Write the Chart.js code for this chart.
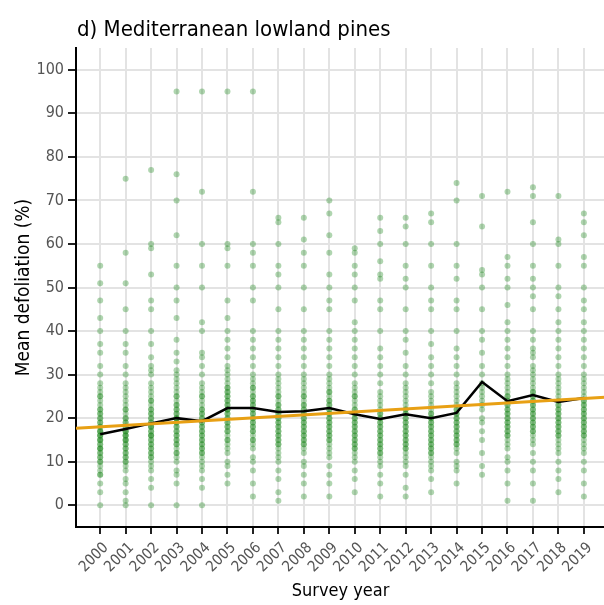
<!DOCTYPE html>
<html>
<head>
<meta charset="utf-8">
<script src="https://cdn.jsdelivr.net/npm/chart.js@4/dist/chart.umd.min.js"></script>
<style>
  html, body { margin: 0; padding: 0; background: #fff; overflow: hidden; }
  canvas { display: block; }
</style>
</head>
<body>
<canvas id="myChart" width="608" height="605"></canvas>
<script>
// Survey years and y ticks
var years = [2000, 2001, 2002, 2003, 2004, 2005, 2006, 2007, 2008, 2009,
             2010, 2011, 2012, 2013, 2014, 2015, 2016, 2017, 2018, 2019];
var yTicks = [0, 10, 20, 30, 40, 50, 60, 70, 80, 90, 100];

// Plot-level mean defoliation (%) per year
var y2000 = [0, 3, 5, 7, 7, 8, 9, 10, 10, 11, 11, 12, 12, 13, 13, 13, 14, 14, 15, 15, 15, 16, 16, 16, 17, 17, 17, 18, 18, 19, 19, 20, 20, 21, 21, 22, 22, 23, 24, 25, 25, 26, 27, 28, 30, 32, 35, 37, 40, 43, 47, 51, 55];
var y2001 = [0, 1, 3, 5, 6, 8, 9, 10, 10, 11, 11, 12, 12, 13, 13, 14, 14, 15, 15, 15, 16, 16, 16, 17, 17, 17, 18, 18, 19, 19, 20, 20, 21, 22, 22, 23, 24, 25, 26, 27, 28, 30, 32, 35, 37, 40, 45, 51, 58, 75];
var y2002 = [0, 4, 6, 8, 9, 10, 11, 11, 12, 12, 13, 13, 14, 14, 15, 15, 16, 16, 16, 17, 17, 18, 18, 18, 19, 19, 20, 20, 21, 21, 22, 22, 23, 24, 24, 25, 26, 27, 28, 30, 31, 32, 34, 37, 40, 45, 47, 53, 59, 60, 77];
var y2003 = [0, 5, 7, 8, 10, 11, 12, 12, 13, 14, 14, 15, 15, 16, 16, 17, 17, 18, 18, 19, 19, 20, 20, 20, 21, 21, 22, 22, 23, 23, 24, 25, 25, 26, 27, 28, 29, 30, 31, 33, 35, 38, 43, 47, 50, 55, 62, 70, 76, 95];
var y2004 = [0, 4, 6, 8, 9, 10, 11, 12, 12, 13, 13, 14, 14, 15, 15, 16, 16, 17, 17, 18, 18, 19, 19, 20, 20, 21, 21, 22, 22, 23, 24, 25, 25, 26, 27, 28, 30, 32, 34, 35, 40, 42, 50, 55, 60, 72, 95];
var y2005 = [5, 7, 9, 10, 12, 13, 14, 15, 15, 16, 17, 17, 18, 18, 19, 19, 20, 20, 21, 21, 22, 22, 22, 23, 23, 24, 24, 25, 25, 26, 26, 27, 27, 28, 29, 30, 31, 32, 34, 36, 38, 40, 43, 47, 55, 59, 60, 95];
var y2006 = [2, 5, 8, 10, 11, 13, 14, 15, 15, 16, 17, 17, 18, 18, 19, 19, 20, 20, 21, 21, 22, 22, 23, 23, 24, 24, 25, 25, 26, 27, 27, 28, 29, 30, 32, 34, 36, 38, 40, 47, 50, 55, 58, 60, 72, 95];
var y2007 = [1, 3, 6, 8, 10, 11, 12, 13, 14, 14, 15, 15, 16, 16, 17, 17, 18, 18, 19, 19, 20, 20, 21, 21, 22, 22, 23, 23, 24, 25, 25, 26, 27, 28, 29, 30, 32, 34, 36, 38, 40, 45, 50, 53, 55, 60, 65, 66];
var y2008 = [2, 5, 7, 9, 10, 12, 13, 14, 14, 15, 15, 16, 16, 17, 17, 18, 18, 19, 19, 20, 20, 21, 21, 22, 22, 23, 23, 24, 25, 25, 26, 27, 28, 29, 30, 32, 34, 36, 38, 40, 45, 50, 55, 58, 61, 66];
var y2009 = [2, 5, 7, 9, 11, 12, 13, 14, 15, 15, 16, 16, 17, 17, 18, 18, 19, 19, 20, 20, 21, 21, 22, 22, 23, 23, 24, 24, 25, 26, 26, 27, 28, 29, 30, 32, 34, 36, 38, 40, 45, 47, 50, 53, 58, 62, 67, 70];
var y2010 = [3, 6, 8, 10, 11, 12, 13, 13, 14, 14, 15, 15, 16, 16, 17, 17, 18, 18, 19, 19, 20, 20, 21, 21, 22, 22, 23, 24, 25, 25, 26, 27, 28, 30, 32, 34, 36, 38, 40, 42, 47, 50, 53, 55, 58, 59];
var y2011 = [2, 5, 7, 9, 10, 11, 12, 12, 13, 13, 14, 14, 15, 15, 16, 16, 17, 17, 18, 18, 19, 19, 20, 20, 21, 21, 22, 23, 24, 25, 26, 28, 30, 32, 34, 36, 40, 45, 47, 52, 53, 56, 60, 63, 66];
var y2012 = [2, 4, 7, 9, 10, 11, 12, 13, 13, 14, 14, 15, 15, 16, 16, 17, 17, 18, 18, 19, 19, 20, 20, 21, 21, 22, 22, 23, 24, 25, 26, 27, 28, 30, 32, 35, 38, 40, 45, 50, 52, 55, 60, 64, 66];
var y2013 = [3, 6, 8, 9, 10, 11, 12, 12, 13, 13, 14, 14, 15, 15, 16, 16, 17, 17, 18, 18, 19, 19, 20, 20, 21, 21, 22, 23, 24, 25, 26, 28, 30, 32, 34, 37, 40, 45, 47, 50, 55, 60, 65, 67];
var y2014 = [5, 8, 9, 10, 12, 13, 14, 14, 15, 15, 16, 16, 17, 17, 18, 18, 19, 19, 20, 20, 21, 21, 22, 22, 23, 24, 25, 26, 27, 28, 30, 32, 34, 36, 40, 45, 47, 52, 55, 60, 70, 74];
var y2015 = [7, 9, 12, 15, 17, 19, 20, 22, 23, 24, 25, 26, 27, 28, 30, 32, 35, 38, 40, 45, 50, 53, 54, 64, 71];
var y2016 = [1, 5, 8, 10, 11, 13, 14, 15, 16, 16, 17, 17, 18, 18, 19, 19, 20, 20, 21, 21, 22, 22, 23, 23, 24, 24, 25, 25, 26, 27, 28, 29, 30, 32, 34, 36, 38, 40, 42, 46, 50, 52, 55, 57, 72];
var y2017 = [1, 5, 8, 10, 12, 14, 15, 16, 17, 17, 18, 18, 19, 19, 20, 20, 21, 21, 22, 22, 23, 23, 24, 24, 25, 25, 26, 26, 27, 28, 29, 30, 31, 32, 34, 35, 36, 38, 40, 45, 48, 50, 52, 55, 60, 65, 71, 73];
var y2018 = [3, 6, 8, 10, 12, 13, 14, 15, 16, 16, 17, 17, 18, 18, 19, 19, 20, 20, 21, 21, 22, 22, 23, 23, 24, 25, 26, 27, 28, 29, 30, 32, 34, 36, 38, 40, 42, 45, 48, 50, 55, 60, 61, 71];
var y2019 = [2, 5, 8, 10, 12, 13, 14, 15, 16, 16, 17, 17, 18, 18, 19, 19, 20, 20, 21, 21, 22, 22, 23, 23, 24, 24, 25, 26, 27, 28, 29, 30, 32, 34, 36, 38, 40, 42, 45, 47, 50, 55, 57, 62, 65, 67];
var plotValues = [y2000, y2001, y2002, y2003, y2004, y2005, y2006, y2007, y2008, y2009,
                  y2010, y2011, y2012, y2013, y2014, y2015, y2016, y2017, y2018, y2019];

// Yearly mean (black line)
var meanValues = [16.3, 17.5, 18.8, 20.0, 19.3, 22.3, 22.3, 21.4, 21.6, 22.3,
                  20.9, 19.8, 20.9, 20.0, 21.2, 28.3, 23.9, 25.3, 23.7, 24.6];

// Linear trend (orange line), ends at the panel edges
var trendYears = [1999.05, 2019.83];
var trendValues = [17.7, 24.8];

var fontFamily = "'DejaVu Sans Condensed', 'Roboto', sans-serif";

var scatterData = [];
years.forEach(function (year, i) {
    plotValues[i].forEach(function (v) {
        scatterData.push({ x: year, y: v });
    });
});

var meanData = years.map(function (year, i) { return { x: year, y: meanValues[i] }; });
var trendData = trendYears.map(function (year, i) { return { x: year, y: trendValues[i] }; });

// Titel links über dem Panel
var panelTitle = {
    id: 'panelTitle',
    afterDraw: function (chart) {
        var ctx = chart.ctx;
        ctx.save();
        ctx.fillStyle = '#000';
        ctx.font = '22px ' + fontFamily;
        ctx.textBaseline = 'alphabetic';
        ctx.textAlign = 'left';
        ctx.fillText('d) Mediterranean lowland pines', chart.chartArea.left + 1, 36);
        ctx.restore();
    }
};

var ctx = document.getElementById('myChart').getContext('2d');
var myChart = new Chart(ctx, {
    type: 'scatter',
    data: {
        datasets: [{
            type: 'line',
            data: trendData,
            borderColor: 'rgb(232, 160, 20)',
            borderWidth: 3,
            pointRadius: 0,
            fill: false
        }, {
            type: 'line',
            data: meanData,
            borderColor: '#000',
            borderWidth: 2.5,
            pointRadius: 0,
            tension: 0,
            fill: false
        }, {
            data: scatterData,
            backgroundColor: 'rgba(34, 139, 34, 0.36)',
            borderWidth: 0,
            pointRadius: 3,
            pointHoverRadius: 3
        }]
    },
    options: {
        responsive: false,
        animation: false,
        layout: { padding: { top: 48, left: 0, right: 0, bottom: 0 } },
        plugins: {
            legend: { display: false },
            tooltip: { enabled: false }
        },
        scales: {
            x: {
                type: 'linear',
                min: 1999.05,
                max: 2019.83,
                afterBuildTicks: function (scale) {
                    scale.ticks = years.map(function (v) { return { value: v }; });
                },
                afterFit: function (scale) {
                    scale.height = 78;
                    scale.paddingLeft = 0;
                    scale.paddingRight = 0;
                },
                grid: {
                    color: '#e3e3e3',
                    lineWidth: 2,
                    tickColor: '#222',
                    tickLength: 7,
                    tickWidth: 2
                },
                border: { color: '#000', width: 2 },
                ticks: {
                    autoSkip: false,
                    minRotation: 45,
                    maxRotation: 45,
                    padding: 5,
                    labelOffset: 6,
                    color: '#555',
                    font: { family: fontFamily, size: 15 },
                    callback: function (v) { return String(v); }
                },
                title: {
                    display: true,
                    text: 'Survey year',
                    color: '#000',
                    font: { family: fontFamily, size: 18 },
                    padding: { top: 0, bottom: 3 }
                }
            },
            y: {
                min: -5,
                max: 105,
                afterBuildTicks: function (scale) {
                    scale.ticks = yTicks.map(function (v) { return { value: v }; });
                },
                afterFit: function (scale) {
                    scale.width = 76;
                    scale.paddingTop = 0;
                    scale.paddingBottom = 0;
                },
                grid: {
                    color: '#e3e3e3',
                    lineWidth: 2,
                    tickColor: '#222',
                    tickLength: 8,
                    tickWidth: 2
                },
                border: { color: '#000', width: 2 },
                ticks: {
                    padding: 4,
                    color: '#555',
                    font: { family: fontFamily, size: 16 }
                },
                title: {
                    display: true,
                    text: 'Mean defoliation (%)',
                    color: '#000',
                    font: { family: fontFamily, size: 19 },
                    padding: { top: 13, bottom: 0 }
                }
            }
        }
    },
    plugins: [panelTitle]
});
</script>
</body>
</html>
